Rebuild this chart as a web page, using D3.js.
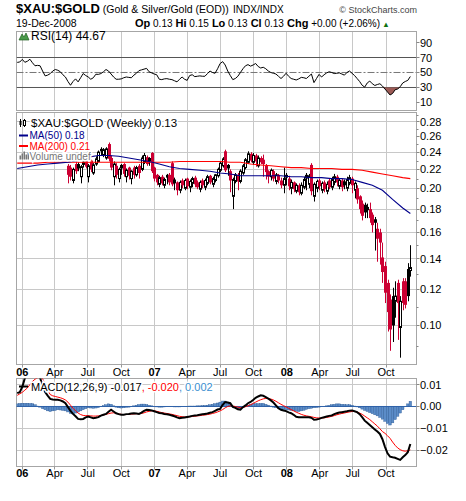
<!DOCTYPE html>
<html>
<head>
<meta charset="utf-8">
<title>$XAU:$GOLD</title>
<script src="https://cdn.jsdelivr.net/npm/d3@7"></script>
<style>
  body { margin: 0; background: #fff; }
  text { font-family: "Liberation Sans", Arial, sans-serif; }
</style>
</head>
<body>
<div id="chart"></div>
<script>
// one entry per weekly bar (week start), Dec 2005 .. Dec 2008
var weeks = d3.timeWeek.range(new Date(2005, 11, 18), new Date(2008, 11, 8));

// RSI(14)
var rsiValues = [63.5,64,67.5,63.6,65,67.7,63,59,59.5,59,
  52,45.5,46.5,48.5,52,54,53,51,47,44,
  38,33,38,41.5,37.5,43,48.6,46,44,41,
  43,47.7,47.5,48.6,51,54,52,48,44,41,
  41,41.5,43,44,43.5,43,46.5,49,52.5,53.5,
  54.5,55.5,51,49.5,48,47,41,40.5,41.5,41.8,
  41,40.5,39,37.5,41,44,41,39.5,46,47,
  44.5,45,45.5,45,45,48.5,52,50,49,55,
  62,64.5,60,52,46,40.5,42,45,50,55,
  59,60.5,58.5,60,62,58,56,57,55,52,
  50,49,48,45,42,45,49,45,42,41,
  40,41.5,43.5,43,42,45,48,36.5,42,47.5,
  44,47,49.5,51,50,48.6,49,49.5,48,46.5,
  50,52,49,46,42,38,33,30.5,36,38.6,
  35,32.7,34,35,32,28,24,20,22,27,
  28,31,36,38,39.5,44.67];

// MACD(12,26,9): macd line, signal line, histogram
var macdValues = [0.0061,0.0066,0.0090,0.0130,0.0150,0.0160,0.0160,0.0155,0.0145,0.0132,
  0.0095,0.0066,0.0050,0.0035,0.0032,0.0031,0.0031,0.0028,0.0023,0.0015,
  -0.0003,-0.0020,-0.0034,-0.0045,-0.0057,-0.0059,-0.0057,-0.0050,-0.0046,-0.0050,
  -0.0054,-0.0052,-0.0049,-0.0042,-0.0038,-0.0034,-0.0024,-0.0015,-0.0023,-0.0031,
  -0.0035,-0.0038,-0.0038,-0.0035,-0.0034,-0.0032,-0.0031,-0.0032,-0.0034,-0.0028,
  -0.0020,-0.0015,-0.0016,-0.0018,-0.0022,-0.0026,-0.0030,-0.0031,-0.0034,-0.0036,
  -0.0038,-0.0041,-0.0045,-0.0050,-0.0054,-0.0052,-0.0050,-0.0048,-0.0046,-0.0043,
  -0.0041,-0.0040,-0.0038,-0.0036,-0.0034,-0.0032,-0.0029,-0.0026,-0.0020,-0.0014,
  -0.0011,0.0008,0.0020,0.0018,0.0015,-0.0002,-0.0006,-0.0013,-0.0015,-0.0003,
  0.0005,0.0015,0.0021,0.0030,0.0040,0.0046,0.0051,0.0049,0.0043,0.0036,
  0.0028,0.0018,0.0005,-0.0008,-0.0015,-0.0018,-0.0021,-0.0027,-0.0031,-0.0038,
  -0.0047,-0.0049,-0.0049,-0.0049,-0.0049,-0.0049,-0.0052,-0.0061,-0.0060,-0.0057,
  -0.0052,-0.0049,-0.0046,-0.0043,-0.0041,-0.0035,-0.0031,-0.0028,-0.0026,-0.0024,
  -0.0022,-0.0019,-0.0018,-0.0022,-0.0026,-0.0035,-0.0049,-0.0065,-0.0075,-0.0085,
  -0.0095,-0.0105,-0.0115,-0.0126,-0.0150,-0.0185,-0.0215,-0.0230,-0.0233,-0.0235,
  -0.0240,-0.0245,-0.0233,-0.0223,-0.0210,-0.0172];
var signalValues = [0.0051,0.0058,0.0065,0.0075,0.0085,0.0100,0.0115,0.0125,0.0132,0.0135,
  0.0128,0.0105,0.0075,0.0055,0.0049,0.0046,0.0043,0.0040,0.0036,0.0030,
  0.0020,0.0006,-0.0008,-0.0020,-0.0030,-0.0037,-0.0041,-0.0042,-0.0042,-0.0043,
  -0.0044,-0.0044,-0.0043,-0.0041,-0.0039,-0.0036,-0.0033,-0.0030,-0.0029,-0.0031,
  -0.0034,-0.0036,-0.0037,-0.0037,-0.0036,-0.0035,-0.0034,-0.0033,-0.0033,-0.0032,
  -0.0029,-0.0025,-0.0022,-0.0020,-0.0020,-0.0022,-0.0025,-0.0028,-0.0030,-0.0032,
  -0.0034,-0.0036,-0.0039,-0.0042,-0.0045,-0.0047,-0.0048,-0.0048,-0.0047,-0.0046,
  -0.0045,-0.0043,-0.0042,-0.0040,-0.0039,-0.0037,-0.0035,-0.0032,-0.0029,-0.0025,
  -0.0020,-0.0014,-0.0006,0.0000,0.0003,0.0002,0.0000,-0.0003,-0.0005,-0.0004,
  -0.0001,0.0003,0.0008,0.0014,0.0020,0.0026,0.0031,0.0035,0.0037,0.0037,
  0.0034,0.0030,0.0024,0.0017,0.0010,0.0004,-0.0002,-0.0008,-0.0014,-0.0020,
  -0.0026,-0.0031,-0.0036,-0.0040,-0.0043,-0.0045,-0.0047,-0.0050,-0.0052,-0.0053,
  -0.0053,-0.0052,-0.0050,-0.0048,-0.0045,-0.0042,-0.0038,-0.0035,-0.0032,-0.0030,
  -0.0027,-0.0025,-0.0023,-0.0023,-0.0025,-0.0030,-0.0036,-0.0044,-0.0052,-0.0060,
  -0.0070,-0.0080,-0.0090,-0.0102,-0.0115,-0.0123,-0.0134,-0.0146,-0.0163,-0.0178,
  -0.0190,-0.0198,-0.0203,-0.0205,-0.0203,-0.0199];
var histValues = [0.0012,0.0014,0.0015,0.0015,0.0015,0.0014,0.0013,0.0008,0.0002,-0.0003,
  -0.0010,-0.0015,-0.0020,-0.0023,-0.0020,-0.0018,-0.0015,-0.0016,-0.0018,-0.0020,
  -0.0025,-0.0032,-0.0034,-0.0030,-0.0025,-0.0020,-0.0015,-0.0010,-0.0006,-0.0007,
  -0.0008,-0.0007,-0.0005,0.0000,0.0004,0.0008,0.0012,0.0010,0.0003,-0.0003,
  -0.0006,-0.0007,-0.0006,-0.0004,-0.0003,0.0000,0.0003,0.0006,0.0009,0.0011,
  0.0011,0.0009,0.0006,0.0003,0.0000,-0.0002,-0.0003,-0.0003,-0.0002,-0.0001,
  -0.0001,-0.0001,-0.0002,-0.0002,-0.0002,-0.0001,0.0000,0.0001,0.0002,0.0002,
  0.0002,0.0003,0.0003,0.0004,0.0005,0.0006,0.0008,0.0010,0.0013,0.0016,
  0.0020,0.0025,0.0025,0.0020,0.0010,0.0000,-0.0006,-0.0009,-0.0009,-0.0004,
  0.0003,0.0006,0.0009,0.0012,0.0013,0.0013,0.0014,0.0014,0.0010,0.0006,
  0.0002,-0.0003,-0.0006,-0.0009,-0.0012,-0.0013,-0.0015,-0.0016,-0.0018,-0.0020,
  -0.0022,-0.0023,-0.0020,-0.0017,-0.0013,-0.0010,-0.0008,-0.0006,-0.0005,-0.0003,
  -0.0001,0.0000,0.0003,0.0005,0.0008,0.0010,0.0012,0.0012,0.0010,0.0009,
  0.0008,0.0008,0.0006,0.0002,-0.0002,-0.0006,-0.0012,-0.0018,-0.0023,-0.0028,
  -0.0033,-0.0038,-0.0043,-0.0050,-0.0058,-0.0068,-0.0078,-0.0085,-0.0075,-0.0060,
  -0.0045,-0.0030,-0.0015,0.0000,0.0012,0.0024];

// weekly candles, drawn from week index 20 on
var candleStart = 20;
var candleOpen = [0.224,0.222,0.208,0.226,0.226,0.212,0.229,0.230,0.212,0.230,
  0.216,0.226,0.229,0.244,0.236,0.233,0.250,0.233,0.212,0.224,
  0.210,0.225,0.226,0.212,0.222,0.210,0.222,0.214,0.224,0.220,
  0.228,0.234,0.233,0.239,0.222,0.214,0.204,0.212,0.203,0.214,
  0.214,0.227,0.209,0.206,0.198,0.208,0.200,0.210,0.201,0.205,
  0.211,0.206,0.199,0.208,0.201,0.205,0.213,0.204,0.208,0.213,
  0.219,0.224,0.241,0.225,0.218,0.192,0.207,0.214,0.207,0.216,
  0.222,0.228,0.238,0.228,0.236,0.224,0.233,0.231,0.224,0.218,
  0.212,0.218,0.207,0.214,0.208,0.203,0.214,0.210,0.200,0.206,
  0.197,0.203,0.195,0.201,0.214,0.204,0.225,0.192,0.200,0.208,
  0.198,0.206,0.197,0.208,0.201,0.206,0.212,0.202,0.208,0.207,
  0.200,0.205,0.210,0.198,0.200,0.192,0.185,0.184,0.182,0.180,
  0.175,0.171,0.163,0.160,0.141,0.135,0.124,0.114,0.116,0.113,
  0.124,0.099,0.125,0.125,0.133,0.132];
var candleHigh = [0.226,0.225,0.222,0.229,0.228,0.225,0.231,0.232,0.226,0.231,
  0.227,0.235,0.242,0.246,0.245,0.246,0.252,0.236,0.229,0.227,
  0.222,0.226,0.227,0.221,0.223,0.219,0.224,0.224,0.226,0.236,
  0.239,0.236,0.234,0.240,0.223,0.215,0.213,0.214,0.211,0.215,
  0.216,0.229,0.211,0.207,0.208,0.210,0.210,0.211,0.209,0.212,
  0.213,0.208,0.208,0.210,0.210,0.214,0.214,0.212,0.215,0.222,
  0.229,0.234,0.243,0.226,0.220,0.211,0.216,0.216,0.220,0.226,
  0.233,0.241,0.240,0.239,0.238,0.236,0.235,0.237,0.226,0.219,
  0.221,0.220,0.216,0.215,0.211,0.222,0.216,0.213,0.209,0.207,
  0.205,0.205,0.206,0.212,0.216,0.215,0.227,0.206,0.209,0.210,
  0.207,0.208,0.207,0.210,0.212,0.215,0.214,0.210,0.210,0.209,
  0.212,0.214,0.212,0.207,0.203,0.193,0.188,0.186,0.185,0.186,
  0.177,0.173,0.168,0.163,0.152,0.138,0.126,0.117,0.121,0.125,
  0.126,0.116,0.127,0.127,0.137,0.150];
var candleLow = [0.205,0.208,0.205,0.215,0.218,0.205,0.222,0.221,0.206,0.217,
  0.214,0.224,0.228,0.236,0.234,0.231,0.229,0.219,0.203,0.210,
  0.206,0.214,0.212,0.206,0.209,0.204,0.210,0.212,0.210,0.218,
  0.226,0.224,0.224,0.216,0.207,0.203,0.201,0.203,0.200,0.204,
  0.203,0.202,0.198,0.193,0.195,0.200,0.198,0.199,0.196,0.201,
  0.201,0.199,0.196,0.200,0.198,0.203,0.204,0.201,0.206,0.211,
  0.217,0.222,0.217,0.213,0.196,0.180,0.205,0.198,0.205,0.214,
  0.220,0.226,0.228,0.225,0.223,0.222,0.226,0.212,0.209,0.205,
  0.208,0.207,0.204,0.205,0.200,0.195,0.203,0.198,0.194,0.196,
  0.195,0.193,0.193,0.199,0.198,0.200,0.193,0.187,0.196,0.198,
  0.195,0.196,0.194,0.199,0.198,0.203,0.202,0.199,0.197,0.199,
  0.197,0.203,0.195,0.190,0.185,0.176,0.170,0.172,0.172,0.168,
  0.160,0.146,0.138,0.136,0.124,0.112,0.097,0.088,0.092,0.104,
  0.093,0.085,0.108,0.109,0.113,0.128];
var candleClose = [0.214,0.212,0.220,0.218,0.221,0.223,0.225,0.223,0.224,0.220,
  0.225,0.232,0.240,0.241,0.243,0.244,0.232,0.222,0.226,0.214,
  0.220,0.221,0.215,0.219,0.213,0.218,0.214,0.222,0.216,0.233,
  0.236,0.226,0.229,0.218,0.210,0.206,0.211,0.205,0.209,0.211,
  0.206,0.204,0.205,0.198,0.206,0.203,0.208,0.202,0.207,0.210,
  0.204,0.201,0.206,0.203,0.208,0.212,0.206,0.210,0.214,0.220,
  0.227,0.232,0.219,0.221,0.208,0.209,0.214,0.207,0.218,0.224,
  0.231,0.238,0.230,0.236,0.229,0.233,0.228,0.226,0.217,0.212,
  0.219,0.210,0.214,0.208,0.203,0.210,0.211,0.202,0.206,0.199,
  0.203,0.196,0.203,0.209,0.210,0.213,0.197,0.204,0.207,0.202,
  0.205,0.199,0.204,0.201,0.209,0.212,0.206,0.208,0.201,0.203,
  0.209,0.211,0.203,0.205,0.189,0.180,0.174,0.177,0.179,0.172,
  0.166,0.168,0.155,0.152,0.131,0.118,0.107,0.098,0.100,0.116,
  0.112,0.113,0.112,0.111,0.116,0.134];

var maWeekIndex = [0,4,8,12,16,20,24,28,32,36,40,44,48,52,56,60,64,68,72,76,
  80,84,88,92,96,100,104,108,112,116,120,124,128,132,136,140,144,148,152,155];
var ma50Values = [0.221,0.223,0.225,0.226,0.227,0.228,0.230,0.234,0.236,0.236,
  0.235,0.233,0.231,0.229,0.226,0.223,0.221,0.220,0.219,0.218,
  0.216,0.215,0.213,0.213,0.213,0.213,0.213,0.212,0.212,0.211,
  0.211,0.210,0.210,0.209,0.206,0.203,0.198,0.189,0.181,0.176];
var ma200Values = [0.227,0.227,0.227,0.228,0.228,0.228,0.228,0.228,0.228,0.228,
  0.228,0.228,0.228,0.228,0.228,0.228,0.229,0.229,0.229,0.229,
  0.229,0.228,0.228,0.226,0.225,0.224,0.223,0.222,0.222,0.221,
  0.221,0.221,0.220,0.220,0.219,0.217,0.215,0.213,0.211,0.210];

// axis ticks
var priceLabels = [0.10,0.12,0.14,0.16,0.18,0.20,0.22,0.24,0.26,0.28];
var priceGrid = [0.10,0.12,0.14,0.16,0.18,0.20,0.22,0.24,0.28];
var priceMinor = [0.09,0.11,0.13,0.15,0.17,0.19,0.21,0.23,0.25,0.27,0.29];
var rsiLabels = [10,30,50,70,90];
var macdLabels = [0.01,0,-0.01,-0.02];
var quoteFields = [["Op","0.13"],["Hi","0.15"],["Lo","0.13"],["Cl","0.13"],["Chg","+0.00 (+2.06%)"]];

var width = 466, height = 501;
var plotLeft = 16.5, plotRight = 416.5;
var rsiPanel = {top: 31.5, bottom: 110.5};
var pricePanel = {top: 112.5, bottom: 364.5};
var macdPanel = {top: 378.5, bottom: 466.5};
var gridColor = "#c8c8c8", borderColor = "#a6a6a6";
var candleRed = "#cc0033";
var legendFont = "DejaVu Sans";

var svg, x, quarters;

function init(){
    svg = d3.select("#chart")
      .append("svg")
      .attr("width", width)
      .attr("height", height);

    x = d3.scaleTime()
      .domain([new Date(2005, 11, 16), new Date(2008, 11, 24)])
      .range([plotLeft, plotRight]);
    quarters = d3.timeMonth.every(3).range(new Date(2006, 0, 1), new Date(2008, 11, 1));

    drawHeader();
    drawRsi();
    drawPrice();
    drawMacd();
    drawDateLabels(pricePanel.bottom, 376);
    drawDateLabels(macdPanel.bottom, 477);
}

function gx(d){ return Math.floor(x(d)) + 0.5; }

function panelFrame(panel, y, hLines, name){
    var g = svg.append("g");
    g.selectAll(".vg").data(quarters).enter().append("line")
      .attr("x1", gx).attr("x2", gx)
      .attr("y1", panel.top).attr("y2", panel.bottom)
      .attr("stroke", gridColor);
    g.selectAll(".hg").data(hLines).enter().append("line")
      .attr("x1", plotLeft).attr("x2", plotRight)
      .attr("y1", function(d){ return Math.round(y(d) - 0.5) + 0.5; })
      .attr("y2", function(d){ return Math.round(y(d) - 0.5) + 0.5; })
      .attr("stroke", gridColor);
    g.append("rect")
      .attr("x", plotLeft).attr("y", panel.top)
      .attr("width", plotRight - plotLeft).attr("height", panel.bottom - panel.top)
      .attr("fill", "none").attr("stroke", borderColor);
    svg.append("clipPath").attr("id", name)
      .append("rect")
      .attr("x", plotLeft).attr("y", panel.top)
      .attr("width", plotRight - plotLeft).attr("height", panel.bottom - panel.top);
    return svg.append("g").attr("clip-path", "url(#" + name + ")");
}

function rightLabels(y, values, fmt){
    svg.append("g").selectAll("line").data(values).enter().append("line")
      .attr("x1", plotRight).attr("x2", plotRight + 3)
      .attr("y1", function(d){ return Math.round(y(d) - 0.5) + 0.5; })
      .attr("y2", function(d){ return Math.round(y(d) - 0.5) + 0.5; })
      .attr("stroke", "#888");
    svg.append("g").selectAll("text").data(values).enter().append("text")
      .attr("x", plotRight + 3.5)
      .attr("y", function(d){ return y(d) + 4; })
      .attr("font-size", 11)
      .attr("fill", "#000")
      .text(fmt);
}

function drawHeader(){
    var t = svg.append("text").attr("x", 16).attr("y", 13);
    t.append("tspan").attr("font-weight", "bold").attr("font-size", 13).text("$XAU:$GOLD");
    t.append("tspan").attr("font-size", 10.5).text(" (Gold & Silver/Gold (EOD))");
    svg.append("text").attr("x", 233).attr("y", 13).attr("font-size", 10).text("INDX/INDX");
    svg.append("text").attr("x", 417).attr("y", 13).attr("text-anchor", "end")
      .attr("font-family", legendFont).attr("font-size", 9).attr("fill", "#444")
      .text("\u00a9 StockCharts.com");
    svg.append("text").attr("x", 16).attr("y", 26.5).attr("font-size", 10.5).text("19-Dec-2008");

    var q = svg.append("text").attr("x", 135).attr("y", 26.5).attr("font-size", 10);
    quoteFields.forEach(function(f, i){
        q.append("tspan").attr("font-weight", "bold").attr("font-size", 11)
          .text((i > 0 ? " " : "") + f[0]);
        q.append("tspan").text(" " + f[1]);
    });
    q.append("tspan").attr("fill", "#107010").attr("font-size", 7.5).text(" \u25b2");
}

function drawRsi(){
    var y = d3.scaleLinear().domain([-0.67, 104.67]).range([rsiPanel.bottom, rsiPanel.top]);
    var g = panelFrame(rsiPanel, y, [], "clipRsi");

    g.append("line").attr("x1", plotLeft).attr("x2", plotRight)
      .attr("y1", y(70)).attr("y2", y(70)).attr("stroke", "#555");
    g.append("line").attr("x1", plotLeft).attr("x2", plotRight)
      .attr("y1", y(30)).attr("y2", y(30)).attr("stroke", "#555");
    g.append("line").attr("x1", plotLeft).attr("x2", plotRight)
      .attr("y1", y(50)).attr("y2", y(50)).attr("stroke", "#777")
      .attr("stroke-dasharray", "7,2,2,2");

    var area = d3.area()
      .x(function(d, i){ return x(weeks[i]); })
      .y0(y(30))
      .y1(function(d){ return y(Math.min(d, 30)); });
    g.append("path").datum(rsiValues).attr("d", area).attr("fill", "#9c5a55");

    var line = d3.line()
      .x(function(d, i){ return x(weeks[i]); })
      .y(function(d){ return y(d); });
    g.append("path").datum(rsiValues).attr("d", line)
      .attr("fill", "none").attr("stroke", "#000").attr("stroke-width", 1);

    rightLabels(y, rsiLabels, function(d){ return d; });

    // legend
    svg.append("path").attr("d", "M19,40 L22,34 L24,37 L26,33 L29,40 Z")
      .attr("fill", "#4a9a4a").attr("stroke", "#1f5f1f").attr("stroke-width", 0.7);
    svg.append("text").attr("x", 31).attr("y", 40).attr("font-family", legendFont)
      .attr("font-size", 12).text("RSI(14) " + rsiValues[rsiValues.length - 1].toFixed(2));
}

function drawPrice(){
    var y = d3.scaleLog().domain([0.08212, 0.2932]).range([pricePanel.bottom, pricePanel.top]);
    var g = panelFrame(pricePanel, y, priceGrid, "clipPrice");

    var candles = candleClose.map(function(c, k){
        return {
            date: weeks[candleStart + k],
            o: candleOpen[k], h: candleHigh[k], l: candleLow[k], c: c,
            prev: k > 0 ? candleClose[k - 1] : candleOpen[k]
        };
    });
    function colorOf(d){ return d.c < d.prev ? candleRed : "#000"; }
    function cx(d){ return Math.round(x(d.date)); }

    g.selectAll(".wick").data(candles).enter().append("line")
      .attr("x1", function(d){ return cx(d) + 0.5; })
      .attr("x2", function(d){ return cx(d) + 0.5; })
      .attr("y1", function(d){ return y(d.h); })
      .attr("y2", function(d){ return y(d.l); })
      .attr("stroke", colorOf);

    g.selectAll(".body").data(candles).enter().append("rect")
      .attr("x", function(d){ return d.c > d.o ? cx(d) - 0.5 : cx(d) - 1; })
      .attr("width", function(d){ return d.c > d.o ? 2 : 3; })
      .attr("y", function(d){ return y(Math.max(d.o, d.c)); })
      .attr("height", function(d){ return Math.max(1, Math.abs(y(d.o) - y(d.c))); })
      .attr("fill", function(d){ return d.c > d.o ? "#fff" : colorOf(d); })
      .attr("stroke", function(d){ return d.c > d.o ? colorOf(d) : "none"; });

    var maLine = d3.line()
      .x(function(d){ return x(weeks[d[0]]); })
      .y(function(d){ return y(d[1]); });
    g.append("path").datum(d3.zip(maWeekIndex, ma200Values)).attr("d", maLine)
      .attr("fill", "none").attr("stroke", "#ff0000").attr("stroke-width", 1.1);
    g.append("path").datum(d3.zip(maWeekIndex, ma50Values)).attr("d", maLine)
      .attr("fill", "none").attr("stroke", "#00008b").attr("stroke-width", 1.1);

    // right axis
    svg.append("g").selectAll("line").data(priceMinor).enter().append("line")
      .attr("x1", plotRight).attr("x2", plotRight + 2)
      .attr("y1", function(d){ return Math.round(y(d)) + 0.5; })
      .attr("y2", function(d){ return Math.round(y(d)) + 0.5; })
      .attr("stroke", "#888");
    rightLabels(y, priceLabels, d3.format(".2f"));

    // legend
    var lg = svg.append("g");
    lg.append("line").attr("x1", 20.5).attr("x2", 20.5).attr("y1", 119).attr("y2", 127).attr("stroke", "#000");
    lg.append("rect").attr("x", 19.5).attr("y", 121).attr("width", 2).attr("height", 4).attr("fill", "#000");
    lg.append("line").attr("x1", 24.5).attr("x2", 24.5).attr("y1", 119).attr("y2", 127).attr("stroke", "#000");
    lg.append("rect").attr("x", 23.5).attr("y", 120.5).attr("width", 2).attr("height", 5).attr("fill", "#fff").attr("stroke", "#000");
    lg.append("text").attr("x", 31).attr("y", 127).attr("font-family", legendFont).attr("font-size", 11.5)
      .attr("stroke", "#fff").attr("stroke-width", 3).attr("paint-order", "stroke")
      .text("$XAU:$GOLD (Weekly) " + candleClose[candleClose.length - 1].toFixed(2));

    var rows = [
        {label: "MA(50) " + ma50Values[ma50Values.length - 1].toFixed(2), color: "#00008b", y: 139},
        {label: "MA(200) " + ma200Values[ma200Values.length - 1].toFixed(2), color: "#ff0000", y: 149.5}
    ];
    rows.forEach(function(r){
        lg.append("line").attr("x1", 19).attr("x2", 28).attr("y1", r.y - 3.5).attr("y2", r.y - 3.5)
          .attr("stroke", r.color).attr("stroke-width", 2);
        lg.append("text").attr("x", 29.5).attr("y", r.y).attr("font-size", 10).attr("fill", r.color)
          .attr("stroke", "#fff").attr("stroke-width", 3).attr("paint-order", "stroke")
          .text(r.label);
    });
    [[19.5, 4], [21.5, 6], [23.5, 8], [25.5, 5], [27.5, 7]].forEach(function(b){
        lg.append("rect").attr("x", b[0]).attr("y", 159.5 - b[1]).attr("width", 1.5).attr("height", b[1])
          .attr("fill", "#777");
    });
    lg.append("text").attr("x", 29.5).attr("y", 160).attr("font-size", 10).attr("fill", "#777")
      .attr("stroke", "#fff").attr("stroke-width", 3).attr("paint-order", "stroke")
      .text("Volume undef");
}

function drawMacd(){
    var y = d3.scaleLinear().domain([-0.02752, 0.01284]).range([macdPanel.bottom, macdPanel.top]);
    var g = panelFrame(macdPanel, y, [0.01, -0.01, -0.02], "clipMacd");
    var step = x(weeks[1]) - x(weeks[0]);

    g.selectAll(".hist").data(histValues).enter().append("rect")
      .attr("x", function(d, i){ return x(weeks[i]) - step / 2; })
      .attr("width", step)
      .attr("y", function(d){ return y(Math.max(d, 0)); })
      .attr("height", function(d){ return Math.abs(y(d) - y(0)); })
      .attr("fill", "#5b8cc8").attr("stroke", "#2c5a96").attr("stroke-width", 0.4);
    g.append("line").attr("x1", plotLeft).attr("x2", plotRight)
      .attr("y1", y(0)).attr("y2", y(0)).attr("stroke", "#2f62a8");

    var line = d3.line()
      .x(function(d, i){ return x(weeks[i]); })
      .y(function(d){ return y(d); });
    g.append("path").datum(signalValues).attr("d", line)
      .attr("fill", "none").attr("stroke", "#ff0000").attr("stroke-width", 1);
    g.append("path").datum(macdValues).attr("d", line)
      .attr("fill", "none").attr("stroke", "#000").attr("stroke-width", 2);

    rightLabels(y, macdLabels, d3.format(".2f"));

    var last = macdValues.length - 1;
    svg.append("line").attr("x1", 19).attr("x2", 28).attr("y1", 386.5).attr("y2", 386.5)
      .attr("stroke", "#000").attr("stroke-width", 2);
    var t = svg.append("text").attr("x", 31).attr("y", 390.5).attr("font-family", legendFont)
      .attr("font-size", 11).attr("stroke", "#fff").attr("stroke-width", 3).attr("paint-order", "stroke");
    t.append("tspan").attr("fill", "#000").text("MACD(12,26,9) " + macdValues[last].toFixed(3));
    t.append("tspan").attr("fill", "#ff0000").text(", " + signalValues[last].toFixed(3));
    t.append("tspan").attr("fill", "#3b8fd0").text(", " + histValues[last].toFixed(3));
}

function drawDateLabels(panelBottom, baseline){
    svg.append("g").selectAll("line").data(quarters).enter().append("line")
      .attr("x1", gx).attr("x2", gx)
      .attr("y1", panelBottom).attr("y2", panelBottom + 3)
      .attr("stroke", "#999");
    svg.append("g").selectAll("text").data(quarters).enter().append("text")
      .attr("x", function(d){ return x(d); })
      .attr("y", baseline)
      .attr("text-anchor", "middle")
      .attr("font-size", 11)
      .attr("font-weight", function(d){ return d.getMonth() === 0 ? "bold" : "normal"; })
      .text(function(d){ return d.getMonth() === 0 ? d3.timeFormat("%y")(d) : d3.timeFormat("%b")(d); });
}

init();
</script>
</body>
</html>
